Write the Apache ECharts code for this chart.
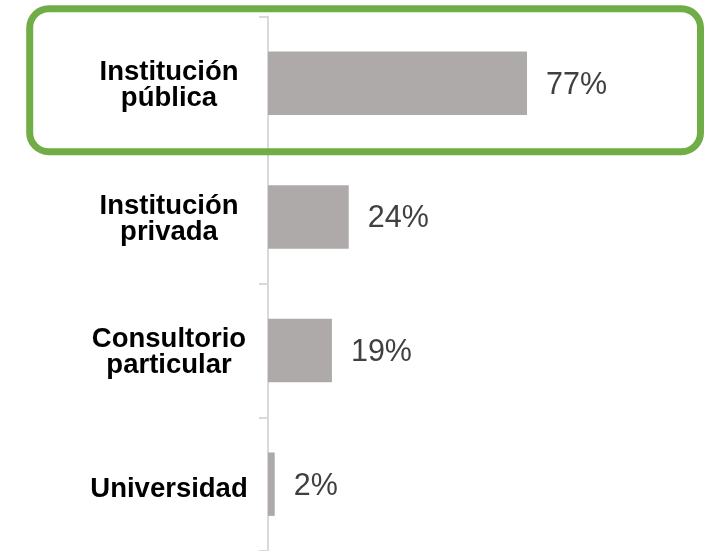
<!DOCTYPE html>
<html>
<head>
<meta charset="utf-8">
<script src="https://cdn.jsdelivr.net/npm/echarts@6/dist/echarts.min.js"></script>
<style>
html,body{margin:0;padding:0;background:#fff;}
#chart{width:709px;height:551px;}
</style>
</head>
<body>
<div id="chart"></div>
<script>
const categories = ["Institución\npública", "Institución\nprivada", "Consultorio\nparticular", "Universidad"];
const values = [77, 24, 19, 2];

const chart = echarts.init(document.getElementById('chart'));
chart.setOption({
  backgroundColor: '#ffffff',
  animation: false,
  grid: { left: 268, top: 16.5, width: 336.4, height: 537 },
  xAxis: { type: 'value', min: 0, max: 100, show: false },
  yAxis: {
    type: 'category',
    data: categories,
    inverse: true,
    offset: 2,
    axisLine: { show: true, lineStyle: { color: '#d9d9d9', width: 2 } },
    axisTick: { show: true, length: 9, lineStyle: { color: '#d9d9d9', width: 2 } },
    axisLabel: {
      align: 'center',
      margin: 97,
      color: '#000000',
      fontFamily: 'Liberation Sans, Arial, sans-serif',
      fontWeight: 'bold',
      fontSize: 27.5,
      lineHeight: 26,
      formatter: function (v) {
        return v.indexOf('\n') >= 0 ? '{gs| }\n' + v : '{gap| }\n' + v;
      },
      rich: {
        gap: { fontSize: 2, lineHeight: 10 },
        gs: { fontSize: 2, lineHeight: 4 }
      }
    },
    splitLine: { show: false }
  },
  series: [{
    type: 'bar',
    data: values,
    barWidth: 63.4,
    itemStyle: { color: '#aeaaaa' },
    label: {
      show: true,
      position: 'right',
      distance: 19,
      offset: [0, 2],
      formatter: '{c}%',
      color: '#404040',
      fontFamily: 'Liberation Sans, Arial, sans-serif',
      fontSize: 30.5
    }
  }],
  graphic: [{
    type: 'rect',
    z: 100,
    shape: { x: 29.7, y: 8.8, width: 670.8, height: 142.9, r: 19 },
    style: { fill: null, stroke: '#70ad47', lineWidth: 7 }
  }]
});
</script>
</body>
</html>
